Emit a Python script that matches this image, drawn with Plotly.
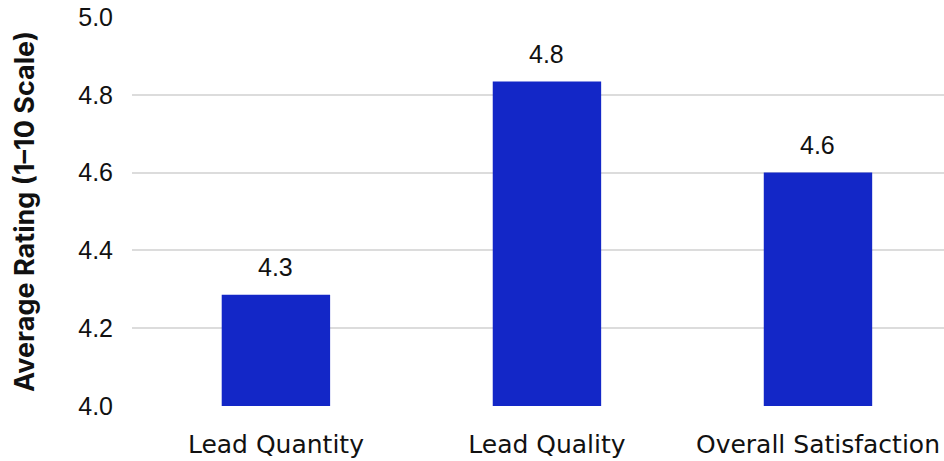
import plotly.graph_objects as go

# Survey results: average rating per category
categories = ["Lead Quantity", "Lead Quality", "Overall Satisfaction"]
ratings = [4.286, 4.834, 4.60]

bar_color = "#1327C7"
grid_color = "#DCDCDC"

fig = go.Figure(
    go.Bar(
        x=categories,
        y=ratings,
        marker=dict(color=bar_color, line=dict(width=0)),
        hoverinfo="x+y",
    )
)

# Value labels above each bar, one decimal place
for cat, val in zip(categories, ratings):
    fig.add_annotation(
        x=cat,
        y=val,
        text=f"{val:.1f}",
        showarrow=False,
        yanchor="bottom",
        yshift=12,
        font=dict(family="Liberation Sans, Arial, sans-serif", size=25, color="#111111"),
    )

fig.update_layout(
    width=944,
    height=461,
    margin=dict(l=132, r=0, t=17, b=55),
    paper_bgcolor="white",
    plot_bgcolor="white",
    bargap=0.6,
    showlegend=False,
    xaxis=dict(
        range=[-0.531, 2.465],
        showgrid=False,
        showline=False,
        zeroline=False,
        ticks="",
        ticklabelstandoff=21,
        tickfont=dict(family="DejaVu Sans, sans-serif", size=25, color="#111111"),
    ),
    yaxis=dict(
        range=[4.0, 5.0],
        dtick=0.2,
        tickformat=".1f",
        showgrid=True,
        gridcolor=grid_color,
        gridwidth=1.5,
        zeroline=False,
        showline=False,
        ticks="",
        ticklabelstandoff=18,
        tickfont=dict(family="Liberation Sans, Arial, sans-serif", size=25, color="#111111"),
        title=dict(
            text="Average Rating (1–10 Scale)",
            font=dict(family="Inter, sans-serif", size=27, color="#111111", weight=700),
            standoff=35,
        ),
    ),
)

fig.write_html("out.html")
